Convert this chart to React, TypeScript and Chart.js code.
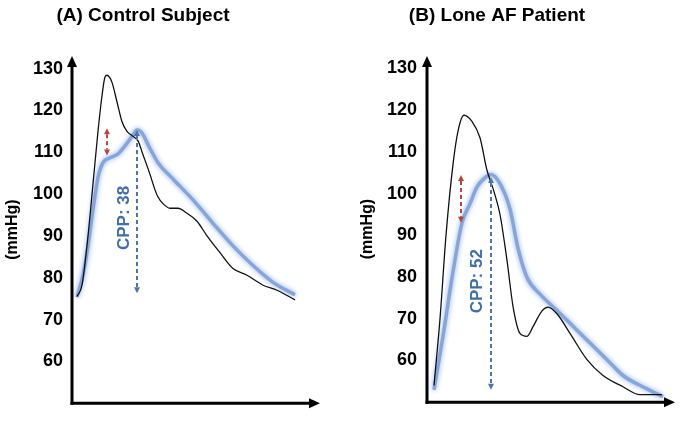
import React, { useEffect, useRef } from "react";
import { Chart, registerables } from "chart.js";

Chart.register(...registerables);

// ---- shared axis data ----
const yTickValues = [60, 70, 80, 90, 100, 110, 120, 130];
const yMin = 50;
const yMax = 133;
const xMin = 0;
const xMax = 248;
const yUnitLabel = "(mmHg)";

// ---- Panel A: Control Subject ----
const titleA = "(A) Control Subject";
const timeBlackA = [5, 10, 16, 21, 26, 30, 33, 35, 40, 45, 50, 55, 61, 66, 71, 78, 83, 86, 91, 98, 106, 115, 125, 135, 148, 161, 175, 191, 205, 223];
const pressureBlackA = [75.5, 78.2, 90, 102.4, 115, 123.5, 128, 128.4, 126.7, 122, 117.3, 115, 113.8, 112.7, 109.4, 104.7, 101, 99.3, 97.7, 96.6, 96.6, 95.4, 93.5, 90, 86, 82.2, 80.6, 78.2, 77, 74.7];
const timeBlueA = [5, 11, 16, 21, 26, 31, 38, 45, 53, 61, 65, 70, 76, 86, 101, 121, 141, 161, 181, 201, 223];
const pressureBlueA = [75.4, 80.6, 87.6, 96.3, 104, 107.5, 108.7, 109.4, 111.5, 114.1, 115.3, 114.6, 111.8, 107.5, 103.6, 98.6, 93, 87.6, 82.9, 78.9, 75.9];
const gapArrowA = [35, 115.7, 109.2]; // time, from, to
const cppArrowA = [65, 115.3, 76.3]; // time, from, to
const cppTextA = "CPP: 38";
const cppTextAtA = [52, 94.3]; // time, pressure

// ---- Panel B: Lone AF Patient ----
const titleB = "(B) Lone AF Patient";
const timeBlackB = [7, 13, 19, 26, 31, 37, 45, 53, 60, 67, 73, 80, 86, 93, 100, 106, 115, 121, 130, 143, 160, 176, 196, 213, 235];
const pressureBlackB = [54, 70, 90, 107, 115, 118.8, 117.3, 113.4, 105.6, 100.5, 95, 84, 73, 66.5, 65.8, 68.1, 71.9, 72.8, 71.2, 66.5, 60.2, 56.4, 53.7, 51.8, 51.8];
const timeBlueB = [7, 16, 25, 35, 43, 50, 57, 64, 73, 83, 91, 100, 113, 130, 146, 163, 180, 196, 220, 236];
const pressureBlueB = [53, 65.8, 79.8, 93, 97.6, 101.6, 103.6, 104.6, 102.4, 96.3, 86.9, 79.9, 75.9, 72, 68.2, 64.2, 60.2, 56.4, 53.2, 51.3];
const gapArrowB = [34, 104.5, 93];
const cppArrowB = [64, 104.0, 53];
const cppTextB = "CPP: 52";
const cppTextAtB = [50, 79];

const FONT = "Arial, 'Liberation Sans', sans-serif";

type PanelProps = {
  left: number;
  width: number;
  axisLeft: number;
  axisRight: number;
  tickPad: number;
  unitPad: number;
  title: string;
  titleX: number;
  blackX: number[];
  blackY: number[];
  blueX: number[];
  blueY: number[];
  gap: number[];
  cpp: number[];
  cppText: string;
  cppAt: number[];
};

function drawDashedDoubleArrow(ctx: CanvasRenderingContext2D, x: number, yTop: number, yBot: number, color: string) {
  const head = 6;
  const half = 3;
  ctx.save();
  ctx.strokeStyle = color;
  ctx.fillStyle = color;
  ctx.lineWidth = 2;
  ctx.setLineDash([4, 3]);
  ctx.beginPath();
  ctx.moveTo(x, yTop + head);
  ctx.lineTo(x, yBot - head);
  ctx.stroke();
  ctx.setLineDash([]);
  ctx.beginPath();
  ctx.moveTo(x, yTop);
  ctx.lineTo(x - half, yTop + head);
  ctx.lineTo(x + half, yTop + head);
  ctx.closePath();
  ctx.fill();
  ctx.beginPath();
  ctx.moveTo(x, yBot);
  ctx.lineTo(x - half, yBot - head);
  ctx.lineTo(x + half, yBot - head);
  ctx.closePath();
  ctx.fill();
  ctx.restore();
}

const glowPlugin = {
  id: "glow",
  beforeDatasetDraw(chart: any, args: any) {
    if (args.index === 1) {
      const ctx = chart.ctx;
      ctx.save();
      ctx.shadowColor = "rgba(120,160,225,0.9)";
      ctx.shadowBlur = 5;
    }
  },
  afterDatasetDraw(chart: any, args: any) {
    if (args.index === 1) chart.ctx.restore();
  },
};

function makeOverlay(p: PanelProps) {
  return {
    id: "overlay",
    afterDatasetsDraw(chart: any) {
      const ctx = chart.ctx as CanvasRenderingContext2D;
      const xs = chart.scales.x;
      const ys = chart.scales.y;
      drawDashedDoubleArrow(ctx, xs.getPixelForValue(p.gap[0]), ys.getPixelForValue(p.gap[1]), ys.getPixelForValue(p.gap[2]), "#b5473f");
      drawDashedDoubleArrow(ctx, xs.getPixelForValue(p.cpp[0]), ys.getPixelForValue(p.cpp[1]), ys.getPixelForValue(p.cpp[2]), "#4a76ad");
      ctx.save();
      ctx.translate(xs.getPixelForValue(p.cppAt[0]), ys.getPixelForValue(p.cppAt[1]));
      ctx.rotate(-Math.PI / 2);
      ctx.fillStyle = "#3f6ea8";
      ctx.font = `bold 17px ${FONT}`;
      ctx.textAlign = "center";
      ctx.textBaseline = "middle";
      ctx.fillText(p.cppText, 0, 0);
      ctx.restore();
    },
    afterDraw(chart: any) {
      const ctx = chart.ctx as CanvasRenderingContext2D;
      const { left, right, top, bottom } = chart.chartArea;
      ctx.save();
      ctx.strokeStyle = "#000";
      ctx.fillStyle = "#000";
      ctx.lineWidth = 3;
      ctx.beginPath();
      ctx.moveTo(left, bottom + 1.5);
      ctx.lineTo(left, top + 8);
      ctx.stroke();
      ctx.beginPath();
      ctx.moveTo(left - 1.5, bottom);
      ctx.lineTo(right - 8, bottom);
      ctx.stroke();
      ctx.beginPath();
      ctx.moveTo(left, top);
      ctx.lineTo(left - 5, top + 11);
      ctx.lineTo(left + 5, top + 11);
      ctx.closePath();
      ctx.fill();
      ctx.beginPath();
      ctx.moveTo(right, bottom);
      ctx.lineTo(right - 11, bottom - 5);
      ctx.lineTo(right - 11, bottom + 5);
      ctx.closePath();
      ctx.fill();
      ctx.font = `bold 19px ${FONT}`;
      ctx.textAlign = "center";
      ctx.textBaseline = "middle";
      ctx.fillText(p.title, p.titleX, 16);
      ctx.restore();
    },
  };
}

function Panel(p: PanelProps) {
  const ref = useRef<HTMLCanvasElement>(null);
  useEffect(() => {
    const canvas = ref.current;
    if (!canvas) return;
    const chart = new Chart(canvas, {
      type: "line",
      data: {
        datasets: [
          {
            data: p.blackX.map((x, i) => ({ x, y: p.blackY[i] })),
            borderColor: "#111111",
            borderWidth: 1.3,
            pointRadius: 0,
            cubicInterpolationMode: "monotone",
            fill: false,
          },
          {
            data: p.blueX.map((x, i) => ({ x, y: p.blueY[i] })),
            borderColor: "#86a6db",
            borderWidth: 3.5,
            pointRadius: 0,
            cubicInterpolationMode: "monotone",
            fill: false,
          },
        ],
      },
      options: {
        responsive: false,
        animation: false,
        events: [],
        layout: { padding: { left: 0, top: 56, right: p.width - p.axisRight, bottom: 12 } },
        plugins: { legend: { display: false }, tooltip: { enabled: false } },
        scales: {
          x: { type: "linear", min: xMin, max: xMax, display: false },
          y: {
            type: "linear",
            min: yMin,
            max: yMax,
            afterBuildTicks: (s: any) => {
              s.ticks = yTickValues.map((v) => ({ value: v }));
            },
            afterFit: (s: any) => {
              s.width = p.axisLeft;
            },
            grid: { display: false, drawTicks: false },
            border: { display: false },
            ticks: {
              color: "#000",
              padding: p.tickPad,
              font: { family: FONT, size: 18, weight: "bold" },
            },
            title: {
              display: true,
              text: yUnitLabel,
              color: "#000",
              font: { family: FONT, size: 16, weight: "bold" },
              padding: { top: p.unitPad, bottom: 0 },
            },
          },
        },
      } as any,
      plugins: [glowPlugin, makeOverlay(p)],
    });
    return () => chart.destroy();
  }, []);
  return (
    <canvas
      ref={ref}
      width={p.width}
      height={423}
      style={{ position: "absolute", left: p.left, top: 0, width: p.width, height: 423 }}
    />
  );
}

export default function App() {
  return (
    <div style={{ position: "absolute", left: 0, top: 0, width: 683, height: 423, background: "#fff", overflow: "hidden" }}>
      <Panel
        left={0}
        width={340}
        axisLeft={72}
        axisRight={320}
        tickPad={9}
        unitPad={3}
        title={titleA}
        titleX={143}
        blackX={timeBlackA}
        blackY={pressureBlackA}
        blueX={timeBlueA}
        blueY={pressureBlueA}
        gap={gapArrowA}
        cpp={cppArrowA}
        cppText={cppTextA}
        cppAt={cppTextAtA}
      />
      <Panel
        left={340}
        width={343}
        axisLeft={87}
        axisRight={335}
        tickPad={10}
        unitPad={18}
        title={titleB}
        titleX={157}
        blackX={timeBlackB}
        blackY={pressureBlackB}
        blueX={timeBlueB}
        blueY={pressureBlueB}
        gap={gapArrowB}
        cpp={cppArrowB}
        cppText={cppTextB}
        cppAt={cppTextAtB}
      />
    </div>
  );
}
